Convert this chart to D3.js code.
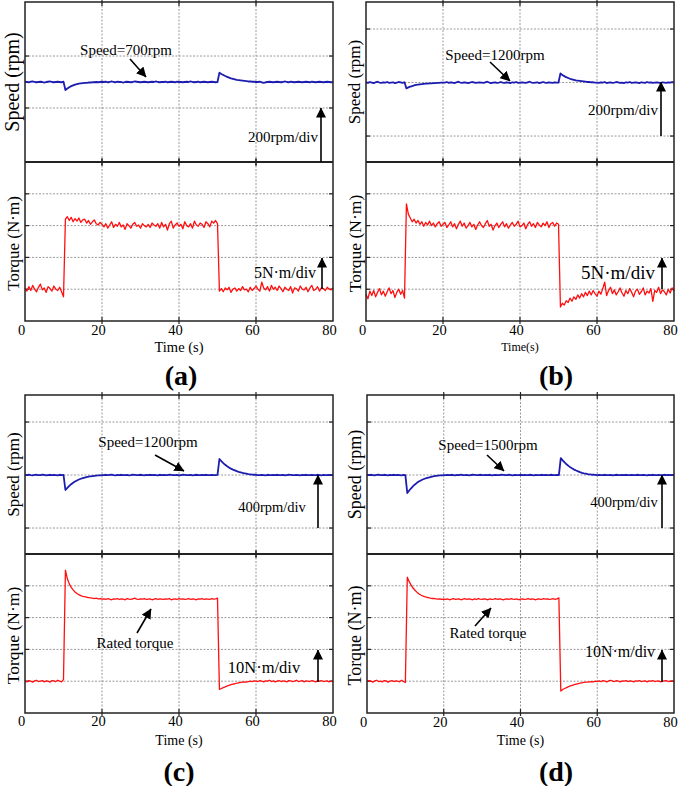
<!DOCTYPE html>
<html><head><meta charset="utf-8">
<script src="https://cdn.jsdelivr.net/npm/d3@7"></script>
<style>
body{margin:0;background:#fff}
svg{display:block}
text{font-family:"Liberation Serif","Times New Roman",serif;fill:#000}
</style>
</head><body>
<svg id="chart" width="685" height="786"></svg>
<script>
// ---------------- DATA (sampled every 0.5 s, 0..80 s) ----------------
const xTicks = [0, 20, 40, 60, 80];
const sampleStep = 0.5;

const speedA = [
701,700,699,701,702,700,699,700,701,700,698,700,701,702,700,699,700,701,700,699,701,
669,675,680,684,687,690,692,694,695,696,697,697,698,698,699,699,700,699,700,701,
700,701,699,700,702,700,699,701,700,700,698,700,701,700,699,700,702,701,700,699,
700,701,700,699,700,701,700,702,700,699,700,700,701,699,700,701,700,699,701,700,
700,699,700,701,700,702,700,699,700,701,699,700,701,700,699,700,701,700,699,700,
736,731,727,723,720,717,714,712,710,708,707,706,705,704,703,702,702,701,701,700,
700,701,699,697,699,700,701,700,699,700,701,700,699,700,702,700,699,701,700,699,
700,701,700,699,700,701,700,699,701,700,699,700,701,700,699,700,701,700,699,700];

const speedB = [
1201,1199,1202,1200,1198,1201,1203,1200,1199,1201,1200,1202,1199,1200,1201,1198,1200,1202,1201,1199,1201,
1178,1182,1185,1187,1189,1191,1192,1193,1194,1195,1196,1196,1197,1197,1198,1198,1199,1199,1200,1200,
1200,1202,1199,1201,1200,1198,1201,1203,1200,1199,1201,1200,1198,1200,1202,1201,1199,1200,1201,1200,
1199,1201,1203,1200,1198,1200,1201,1199,1200,1202,1200,1199,1201,1200,1198,1201,1200,1202,1199,1200,
1201,1200,1199,1201,1203,1200,1199,1200,1201,1198,1200,1202,1200,1199,1201,1200,1199,1201,1200,1200,
1234,1228,1224,1220,1217,1214,1212,1210,1208,1207,1206,1205,1204,1203,1202,1202,1201,1201,1200,1200,
1199,1201,1200,1202,1198,1200,1201,1199,1200,1202,1201,1199,1200,1198,1201,1200,1202,1199,1200,1201,
1200,1198,1201,1200,1199,1202,1200,1201,1199,1200,1201,1200,1198,1201,1200,1199,1201,1200,1202,1200];

const speedC = [
1201,1199,1203,1200,1198,1201,1202,1199,1200,1203,1201,1198,1200,1202,1199,1201,1200,1198,1202,1200,1201,
1087,1103,1118,1131,1142,1151,1159,1166,1172,1177,1181,1185,1188,1190,1192,1194,1196,1197,1198,1199,
1200,1202,1199,1201,1203,1200,1198,1201,1200,1202,1199,1200,1201,1198,1200,1203,1201,1199,1200,1202,
1200,1198,1201,1200,1202,1199,1201,1200,1198,1202,1200,1201,1199,1200,1203,1201,1199,1200,1201,1198,
1200,1202,1201,1199,1200,1201,1198,1200,1202,1200,1199,1201,1200,1202,1199,1200,1201,1199,1200,1201,
1321,1305,1290,1277,1266,1256,1248,1241,1235,1229,1224,1220,1216,1213,1210,1207,1205,1203,1202,1201,
1200,1199,1201,1200,1198,1202,1200,1199,1201,1200,1202,1199,1200,1201,1198,1200,1202,1201,1199,1200,
1201,1200,1198,1201,1200,1202,1199,1200,1201,1200,1199,1202,1200,1198,1201,1200,1199,1201,1200,1200];

const speedD = [
1501,1499,1502,1500,1498,1501,1503,1500,1499,1502,1500,1498,1501,1500,1502,1499,1501,1500,1498,1501,1500,
1364,1383,1400,1416,1429,1441,1451,1459,1466,1472,1477,1481,1485,1488,1491,1493,1495,1497,1498,1499,
1500,1501,1499,1502,1500,1498,1501,1500,1503,1499,1500,1501,1498,1500,1502,1501,1499,1500,1502,1500,
1499,1501,1500,1502,1498,1500,1501,1499,1500,1503,1501,1499,1500,1502,1500,1498,1501,1500,1499,1502,
1500,1501,1499,1500,1502,1500,1498,1501,1500,1499,1502,1500,1501,1499,1500,1502,1500,1499,1501,1500,
1628,1611,1595,1581,1569,1558,1549,1541,1534,1528,1522,1517,1513,1510,1507,1505,1503,1502,1501,1500,
1501,1499,1500,1502,1499,1500,1501,1498,1500,1502,1500,1499,1501,1500,1502,1499,1500,1501,1499,1500,
1502,1500,1499,1501,1500,1498,1501,1500,1502,1499,1500,1501,1500,1499,1502,1500,1501,1499,1500,1500];

const torqueA = [
0.1,-0.3,0.4,-0.2,0.6,0.0,-0.4,0.3,0.8,-0.1,0.2,-0.5,0.4,0.1,-0.3,0.5,0.0,-0.2,0.3,-0.4,-1.2,
11.0,11.4,10.8,11.3,10.6,11.1,10.7,11.2,10.5,10.9,11.0,10.4,10.8,10.2,10.6,10.9,10.3,10.1,10.5,10.2,
9.8,10.3,9.6,10.1,10.6,9.7,10.2,9.9,10.5,9.8,10.1,9.4,10.3,10.0,9.6,10.2,10.5,9.9,10.1,9.6,
10.3,10.0,9.8,10.2,9.7,10.4,10.1,9.9,10.3,9.6,10.5,9.8,10.2,9.3,10.3,10.7,9.6,10.1,10.4,9.9,
10.2,9.5,10.6,10.0,9.8,10.3,9.6,10.7,10.1,9.9,10.4,10.2,9.7,10.6,10.3,9.8,10.7,10.4,10.8,10.3,
-0.3,0.1,-0.4,0.2,-0.1,0.3,-0.5,0.0,0.2,-0.3,0.1,-0.2,0.4,-0.1,0.0,-0.4,0.3,-0.2,0.1,0.5,
0.0,-0.3,1.1,0.2,-0.1,0.4,-0.3,0.6,0.0,0.3,-0.2,0.5,0.1,-0.4,0.3,0.0,-0.2,0.4,-0.6,0.2,
0.1,-0.3,0.5,0.0,-0.1,0.3,-0.4,0.2,0.6,-0.2,0.0,0.4,-0.3,0.2,0.1,-0.2,0.3,0.0,-0.1,0.2];

const torqueB = [
-0.8,-1.5,-0.3,-1.0,-0.2,-1.2,-0.5,0.1,-0.9,-0.3,-1.1,-0.4,0.2,-0.7,-0.2,-1.3,-0.5,0.0,-0.8,-0.2,-1.4,
13.4,11.8,11.2,10.6,11.0,10.4,10.8,10.2,10.6,9.9,10.5,10.1,10.7,10.0,10.4,9.8,10.3,10.6,9.9,10.2,
10.5,9.7,10.1,10.6,9.8,10.3,9.5,10.2,10.7,9.9,10.4,9.6,10.0,10.5,9.8,10.2,9.4,10.1,10.6,10.0,
9.7,10.3,10.8,9.9,10.2,9.3,10.0,10.4,9.7,10.2,10.6,9.8,10.3,9.6,10.1,10.5,9.9,10.2,10.7,9.8,
10.0,10.4,9.5,10.2,10.6,9.9,10.3,9.7,10.5,10.1,9.8,10.4,10.0,10.6,9.7,10.3,10.5,9.9,10.4,10.2,
-2.8,-2.2,-2.5,-1.8,-2.1,-1.4,-1.9,-1.2,-1.6,-0.9,-1.4,-0.7,-1.2,-0.5,-1.0,-0.3,-0.9,-0.2,-0.7,-1.1,
-0.3,-0.8,0.1,1.1,-1.0,-0.2,0.3,-0.7,-0.1,-0.9,-0.4,0.2,-0.6,-1.1,-0.2,-0.7,0.1,-0.5,-1.2,-0.3,
0.0,-0.8,-0.4,0.2,-0.9,-0.3,-0.6,0.1,-1.9,-0.2,-0.5,0.3,-0.7,-0.1,-0.4,-0.9,0.0,-0.6,0.2,-0.3];

const torqueC = [
0.1,-0.2,0.2,0.0,-0.3,0.1,0.3,-0.1,0.0,0.2,-0.2,0.1,0.0,-0.3,0.2,0.1,-0.1,0.3,0.0,-0.2,0.5,
34.9,32.2,30.6,29.5,28.7,28.0,27.6,27.2,26.9,26.7,26.6,26.4,26.3,26.2,26.1,26.0,26.1,25.9,26.0,25.8,
25.9,25.7,26.0,25.8,25.6,25.9,25.8,26.0,25.7,25.9,25.8,25.6,26.0,25.8,25.7,25.9,26.1,25.8,25.7,25.9,
25.8,26.0,25.7,25.8,25.9,25.6,25.8,26.0,25.7,25.9,25.8,25.7,25.9,25.8,26.0,25.6,25.8,25.9,25.7,26.0,
25.8,25.9,25.7,25.8,26.0,25.7,25.9,25.8,25.6,25.9,25.8,26.0,25.7,25.9,25.8,25.7,26.0,25.8,25.9,26.1,
-2.6,-2.3,-2.0,-1.8,-1.5,-1.3,-1.1,-0.9,-0.8,-0.6,-0.5,-0.4,-0.3,-0.2,-0.3,-0.1,0.0,-0.1,0.1,0.0,
-0.1,0.2,0.0,-0.2,0.1,0.0,0.3,-0.1,0.1,-0.2,0.0,0.2,-0.1,0.1,0.0,-0.2,0.2,0.1,-0.1,0.0,
0.3,-0.1,0.0,0.2,-0.2,0.1,0.0,-0.1,0.2,0.0,-0.2,0.1,0.0,0.2,-0.1,0.0,0.1,-0.2,0.0,0.1];

const torqueD = [
-0.1,0.2,0.0,-0.3,0.1,0.3,-0.1,0.0,-0.2,0.2,0.1,-0.3,0.0,0.2,-0.1,0.1,0.0,-0.2,0.3,-0.1,-0.4,
32.7,31.3,30.2,29.3,28.6,28.0,27.5,27.1,26.8,26.6,26.4,26.3,26.1,26.0,26.0,25.9,25.8,25.9,25.7,25.8,
25.7,25.9,25.6,25.8,26.0,25.7,25.8,25.9,25.6,25.8,26.0,25.7,25.9,25.8,25.6,25.9,25.7,26.0,25.8,25.7,
25.9,25.8,25.6,25.9,25.7,25.8,26.0,25.7,25.9,25.8,25.6,25.8,25.9,25.7,26.0,25.8,25.7,25.9,25.6,25.8,
25.9,25.7,25.8,26.0,25.7,25.9,25.8,25.6,25.9,25.8,25.7,26.0,25.8,25.9,25.7,25.8,26.0,25.7,25.9,26.2,
-3.1,-2.6,-2.3,-2.0,-1.7,-1.5,-1.3,-1.1,-0.9,-0.8,-0.6,-0.5,-0.4,-0.3,-0.3,-0.2,-0.1,-0.2,0.0,-0.1,
0.1,-0.1,0.2,0.0,-0.2,0.1,0.3,0.0,-0.1,0.2,0.0,-0.2,0.1,0.0,0.2,-0.1,0.1,0.0,-0.2,0.1,
0.0,0.2,-0.1,0.0,0.1,-0.2,0.1,0.0,0.2,-0.1,0.0,0.1,-0.2,0.0,0.1,0.2,-0.1,0.0,0.1,-0.1];

const speedTicksA = [600, 800];
const speedTicksB = [1000, 1200, 1400];
const speedTicksC = [800, 1200, 1600];
const speedTicksD = [1100, 1500, 1900];
const torqueTicksAB = [0, 5, 10, 15];
const torqueTicksCD = [0, 10, 20, 30];

const speedNoteA = "Speed=700rpm", speedNoteB = "Speed=1200rpm", speedNoteC = "Speed=1200rpm", speedNoteD = "Speed=1500rpm";
const speedDivAB = "200rpm/div", speedDivCD = "400rpm/div";
const torqueDivAB = "5N·m/div", torqueDivCD = "10N·m/div";
const ratedNote = "Rated torque";

// ---------------- LAYOUT ----------------
const panels = [
 {tag:"(a)", tagX:181, tagY:385, x0:25, x1:333, top:2, mid:162, bot:321,
  speed:speedA, sDom:[392,1008], sTicks:speedTicksA, torque:torqueA, tDom:[-5,20], tTicks:torqueTicksAB,
  spLab:{x:19, size:20}, tqLab:{x:19, size:17}, tickY:335, timeLab:{text:"Time (s)", y:351.5, size:14.5},
  notes:[
    {text:speedNoteA, x:126, y:55, size:15},
    {text:speedDivAB, x:283, y:142, size:15},
    {text:torqueDivAB, x:285, y:278, size:16}],
  arrows:[
    {x1:130,y1:59,x2:146,y2:77},
    {x1:321,y1:162,x2:321,y2:108},
    {x1:322,y1:289,x2:322,y2:258}]},
 {tag:"(b)", tagX:556, tagY:385, x0:366, x1:674, top:2, mid:162, bot:321,
  speed:speedB, sDom:[903,1501], sTicks:speedTicksB, torque:torqueB, tDom:[-5,20], tTicks:torqueTicksAB,
  spLab:{x:360, size:17}, tqLab:{x:361, size:17.5}, tickY:335, timeLab:{text:"Time(s)", y:350.5, size:12},
  notes:[
    {text:speedNoteB, x:495, y:60, size:15},
    {text:speedDivAB, x:623, y:115, size:15},
    {text:torqueDivAB, x:618, y:279, size:19}],
  arrows:[
    {x1:490,y1:62,x2:510,y2:81},
    {x1:661,y1:136,x2:661,y2:82},
    {x1:662,y1:289,x2:662,y2:258}]},
 {tag:"(c)", tagX:179, tagY:781, x0:25, x1:333, top:395, mid:554, bot:713,
  speed:speedC, sDom:[604,1804], sTicks:speedTicksC, torque:torqueC, tDom:[-10,40], tTicks:torqueTicksCD,
  spLab:{x:19, size:17}, tqLab:{x:19, size:17.5}, tickY:726, timeLab:{text:"Time (s)", y:745, size:14},
  notes:[
    {text:speedNoteC, x:148, y:447, size:15},
    {text:speedDivCD, x:272, y:512, size:14.5},
    {text:ratedNote, x:135, y:648, size:15},
    {text:torqueDivCD, x:264, y:673, size:16.5}],
  arrows:[
    {x1:155,y1:455,x2:184,y2:471},
    {x1:318,y1:528,x2:318,y2:475},
    {x1:137,y1:633,x2:151,y2:609},
    {x1:318,y1:682,x2:318,y2:650}]},
 {tag:"(d)", tagX:556, tagY:781, x0:367, x1:674, top:395, mid:554, bot:713,
  speed:speedD, sDom:[904,2104], sTicks:speedTicksD, torque:torqueD, tDom:[-10,40], tTicks:torqueTicksCD,
  spLab:{x:361, size:18}, tqLab:{x:361, size:18}, tickY:727, timeLab:{text:"Time (s)", y:745, size:14},
  notes:[
    {text:speedNoteD, x:488, y:450, size:15},
    {text:speedDivCD, x:624, y:507, size:14.5},
    {text:ratedNote, x:488, y:638, size:15},
    {text:torqueDivCD, x:620, y:657, size:16}],
  arrows:[
    {x1:487,y1:455,x2:504,y2:471},
    {x1:662,y1:528,x2:662,y2:475},
    {x1:475,y1:626,x2:491,y2:608},
    {x1:662,y1:682,x2:662,y2:650}]}
];

const svg = d3.select("#chart");
svg.append("defs").append("marker")
  .attr("id","ah").attr("viewBox","0 0 10 10").attr("refX",9.5).attr("refY",5)
  .attr("markerUnits","userSpaceOnUse").attr("markerWidth",10).attr("markerHeight",10)
  .attr("orient","auto")
  .append("path").attr("d","M0,0 L10,5 L0,10 Z").attr("fill","#000");

const times = speedA.map((_, i) => i * sampleStep);

panels.forEach(p => {
  const g = svg.append("g");
  const x = d3.scaleLinear().domain([0, 80]).range([p.x0, p.x1]);
  const ys = d3.scaleLinear().domain(p.sDom).range([p.mid, p.top]);
  const yt = d3.scaleLinear().domain(p.tDom).range([p.bot, p.mid]);
  const innerX = xTicks.filter(v => v > 0 && v < 80);

  // grids
  [[ys, p.sTicks, p.top, p.mid], [yt, p.tTicks, p.mid, p.bot]].forEach(([y, ticks, t, b]) => {
    const gg = g.append("g").attr("stroke","#9a9a9a").attr("stroke-width",1).attr("stroke-dasharray","2,1.5");
    gg.selectAll(".h").data(ticks).join("line")
      .attr("x1", p.x0).attr("x2", p.x1).attr("y1", d => y(d)).attr("y2", d => y(d));
    gg.selectAll(".v").data(innerX).join("line")
      .attr("x1", d => x(d)).attr("x2", d => x(d)).attr("y1", t).attr("y2", b);
    const tk = g.append("g").attr("stroke","#222").attr("stroke-width",1.2);
    ticks.forEach(v => {
      tk.append("line").attr("x1", p.x0).attr("x2", p.x0 + 4).attr("y1", y(v)).attr("y2", y(v));
      tk.append("line").attr("x1", p.x1 - 4).attr("x2", p.x1).attr("y1", y(v)).attr("y2", y(v));
    });
    innerX.forEach(v => {
      tk.append("line").attr("x1", x(v)).attr("x2", x(v)).attr("y1", t - 3).attr("y2", t + 4);
      tk.append("line").attr("x1", x(v)).attr("x2", x(v)).attr("y1", b - 4).attr("y2", b + 3);
    });
  });

  // series
  const lineS = d3.line().x((d, i) => x(times[i])).y(d => ys(d));
  const lineT = d3.line().x((d, i) => x(times[i])).y(d => yt(d));
  g.append("path").datum(p.speed).attr("d", lineS)
    .attr("fill","none").attr("stroke","#1c1cb0").attr("stroke-width",1.8).attr("stroke-linejoin","round");
  g.append("path").datum(p.torque).attr("d", lineT)
    .attr("fill","none").attr("stroke","#ff1010").attr("stroke-width",1.3).attr("stroke-linejoin","round");

  // frames
  g.append("rect").attr("x", p.x0).attr("y", p.top).attr("width", p.x1 - p.x0).attr("height", p.bot - p.top)
    .attr("fill","none").attr("stroke","#222").attr("stroke-width",1.5);
  g.append("line").attr("x1", p.x0).attr("x2", p.x1).attr("y1", p.mid).attr("y2", p.mid)
    .attr("stroke","#222").attr("stroke-width",2.2);

  // x tick labels
  g.selectAll(".xl").data(xTicks).join("text")
    .attr("x", d => x(d) - 3.5).attr("y", p.tickY).attr("text-anchor","middle")
    .attr("font-size", 14.5).text(d => d);
  g.append("text").attr("x", (p.x0 + p.x1) / 2).attr("y", p.timeLab.y)
    .attr("text-anchor","middle").attr("font-size", p.timeLab.size).text(p.timeLab.text);

  // y labels
  g.append("text").attr("transform", `translate(${p.spLab.x},${(p.top + p.mid) / 2}) rotate(-90)`)
    .attr("text-anchor","middle").attr("font-size", p.spLab.size).text("Speed (rpm)");
  g.append("text").attr("transform", `translate(${p.tqLab.x},${(p.mid + p.bot) / 2 + 2}) rotate(-90)`)
    .attr("text-anchor","middle").attr("font-size", p.tqLab.size).text("Torque (N·m)");

  // notes
  p.notes.forEach(n => g.append("text").attr("x", n.x).attr("y", n.y).attr("text-anchor","middle")
    .attr("font-size", n.size).text(n.text));
  p.arrows.forEach(a => g.append("line").attr("x1", a.x1).attr("y1", a.y1).attr("x2", a.x2).attr("y2", a.y2)
    .attr("stroke","#000").attr("stroke-width",1.6).attr("marker-end","url(#ah)"));

  // panel tag
  g.append("text").attr("x", p.tagX).attr("y", p.tagY).attr("text-anchor","middle")
    .attr("font-size", 28).attr("font-weight","bold").text(p.tag);
});
</script>
</body></html>
